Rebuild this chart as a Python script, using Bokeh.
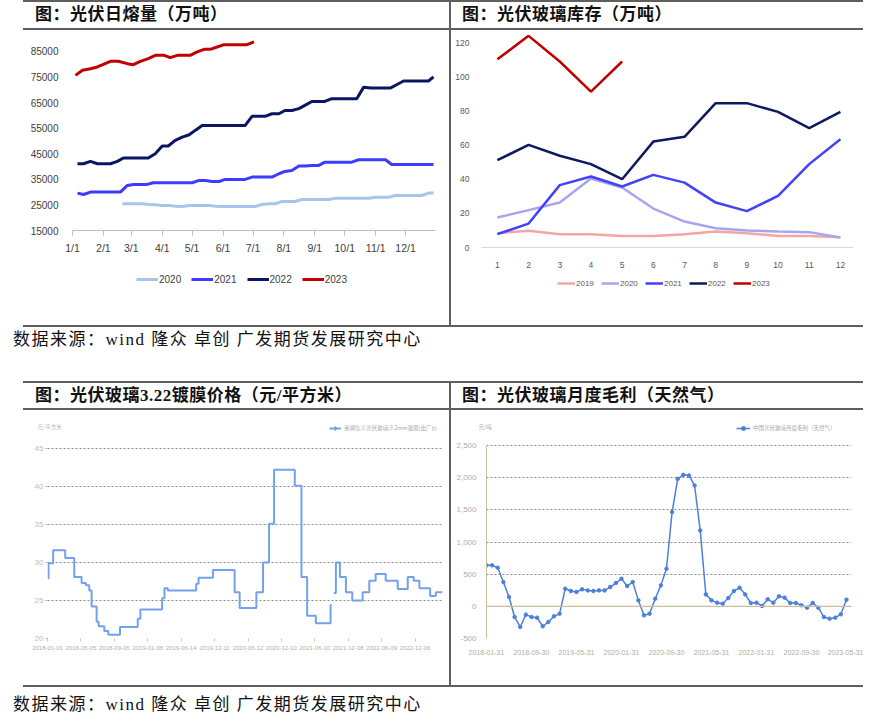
from bokeh.plotting import figure
from bokeh.models import (FixedTicker, Legend, LegendItem, Div, Spacer, Span, Label, NumeralTickFormatter)
from bokeh.layouts import column, row
from bokeh.embed import file_html
from bokeh.resources import INLINE

NUM = "'Liberation Sans', Arial, sans-serif"
CJK = "'Noto Sans CJK SC', sans-serif"
MIXED = "'Liberation Serif', 'Noto Sans CJK SC', serif"

# ---------------- data: 光伏日熔量 (day of year, value) ----------------
month_doy = [1, 32, 60, 91, 121, 152, 182, 213, 244, 274, 305, 335]
month_labels = ["1/1", "2/1", "3/1", "4/1", "5/1", "6/1", "7/1", "8/1", "9/1", "10/1", "11/1", "12/1"]
melt_ticks = [15000, 25000, 35000, 45000, 55000, 65000, 75000, 85000]

melt2020_x = [51, 57, 64, 71, 78, 84, 91, 98, 104, 111, 118, 124, 131, 138, 144, 151, 158, 164, 171, 178,
              184, 191, 198, 204, 211, 218, 224, 231, 238, 245, 251, 258, 265, 271, 278, 285, 291, 298, 305,
              311, 318, 325, 331, 338, 345, 351, 358, 363]
melt2020_y = [25430, 25430, 25430, 25430, 25170, 25040, 24780, 24780, 24520, 24390, 24780, 24780, 24780,
              24780, 24520, 24390, 24390, 24390, 24390, 24390, 24390, 25170, 25430, 25430, 26340, 26340,
              26340, 27120, 27120, 27120, 27120, 27120, 27640, 27640, 27640, 27640, 27640, 27640, 28030,
              28030, 28030, 28690, 28690, 28690, 28690, 28690, 29600, 29600]

melt2021_x = [6, 12, 19, 26, 32, 39, 46, 49, 56, 62, 69, 76, 82, 89, 96, 103, 109, 116, 121, 128, 134, 141,
              148, 154, 161, 168, 174, 181, 188, 194, 201, 208, 214, 221, 228, 234, 241, 248, 254, 261, 268,
              275, 281, 288, 295, 301, 308, 315, 321, 328, 335, 341, 348, 355, 363]
melt2021_y = [29600, 29080, 30000, 30000, 30000, 30000, 30000, 30000, 32600, 33000, 33000, 33000, 33640,
              33640, 33640, 33640, 33640, 33640, 33640, 34550, 34550, 34150, 34150, 34950, 34950, 34950,
              34950, 35860, 35860, 35860, 35860, 37160, 38070, 38460, 40160, 40160, 40420, 40420, 41700,
              41700, 41700, 41700, 41700, 42630, 42630, 42630, 42630, 42630, 40800, 40800, 40800, 40800,
              40800, 40800, 40800]

melt2022_x = [6, 12, 19, 26, 32, 39, 46, 52, 59, 66, 72, 77, 84, 91, 97, 104, 111, 118, 124, 131, 138, 144,
              151, 158, 164, 174, 181, 188, 194, 201, 208, 214, 221, 228, 234, 241, 248, 254, 261, 268, 275,
              281, 286, 293, 300, 306, 313, 320, 326, 333, 340, 346, 353, 358, 363]
melt2022_y = [41070, 41070, 42000, 41070, 41070, 41070, 42000, 43300, 43300, 43300, 43300, 43300, 45000,
              48000, 48000, 50200, 51500, 52400, 54100, 56000, 56000, 56000, 56000, 56000, 56000, 56000,
              59600, 59600, 59600, 60600, 60600, 61900, 61900, 62600, 63900, 65400, 65400, 65400, 66500,
              66500, 66500, 66500, 66500, 71000, 70700, 70700, 70700, 70700, 71950, 73400, 73400, 73400,
              73400, 73400, 75000]

melt2023_x = [4, 11, 19, 26, 32, 39, 47, 56, 62, 69, 77, 84, 93, 99, 106, 113, 119, 126, 133, 139, 146, 153,
              159, 166, 176, 183]
melt2023_y = [75600, 77570, 78200, 78870, 79900, 81090, 81090, 80170, 79780, 81090, 82130, 83430, 83430,
              82520, 83430, 83430, 83430, 84740, 85780, 85780, 86690, 87600, 87600, 87600, 87600, 88650]

# ---------------- data: 光伏玻璃库存 ----------------
months = [1, 2, 3, 4, 5, 6, 7, 8, 9, 10, 11, 12]
stock_ticks = [0, 20, 40, 60, 80, 100, 120]
stock2019 = [8.4, 9.8, 7.8, 7.8, 6.8, 6.8, 7.8, 9.4, 8.4, 6.8, 6.8, 6.0]
stock2020 = [17.6, 21.9, 26.3, 40.4, 35.1, 22.8, 15.2, 11.3, 10.0, 9.4, 9.0, 5.9]
stock2021 = [7.8, 14.0, 36.5, 41.6, 35.7, 42.5, 38.0, 26.3, 21.3, 30.2, 48.8, 63.4]
stock2022 = [51.1, 60.1, 53.7, 48.8, 40.0, 62.0, 64.8, 84.5, 84.5, 79.4, 69.9, 79.4]
stock2023 = [110.2, 123.9, 108.9, 91.3, 108.9]

# ---------------- data: 3.2mm镀膜价格 (step changes, index units) ----------------
price_tick_pos = [0, 100, 200, 300, 400, 500, 600, 700, 800, 900, 1000, 1100]
price_tick_lbl = ["2018-01-01", "2018-05-05", "2018-09-06", "2019-01-08", "2019-06-14", "2019-12-11",
                  "2020-06-12", "2020-12-10", "2021-06-10", "2021-12-08", "2022-06-09", "2022-12-06"]
price_ticks = [20, 25, 30, 35, 40, 45]
price1_x = [2, 3, 17, 53, 80, 102, 115, 125, 132, 147, 153, 170, 182, 217, 270, 278, 343, 350, 360, 445,
            452, 495, 560, 575, 625, 645, 663, 678, 740, 760, 777, 803, 847, 850]
price1_y = [27.9, 29.9, 31.6, 30.6, 28.1, 27.3, 27.0, 26.3, 24.2, 22.2, 21.6, 21.0, 20.5, 21.5, 22.6, 23.8,
            25.3, 26.6, 26.3, 27.2, 28.0, 29.0, 26.1, 24.0, 26.1, 30.0, 35.1, 42.2, 40.1, 28.1, 23.0, 22.0,
            24.4, 24.4]
price2_x = [857, 863, 875, 893, 912, 943, 963, 982, 1012, 1048, 1078, 1096, 1113, 1145, 1162, 1182]
price2_y = [26.0, 30.0, 28.1, 26.1, 25.0, 26.1, 27.6, 28.5, 27.6, 26.5, 28.1, 27.6, 26.6, 25.6, 26.1, 26.1]

# ---------------- data: 月度毛利 (month index from 2018-01) ----------------
profit_tick_pos = [0, 8, 16, 24, 32, 40, 48, 56, 64]
profit_tick_lbl = ["2018-01-31", "2018-09-30", "2019-05-31", "2020-01-31", "2020-09-30", "2021-05-31",
                   "2022-01-31", "2022-09-30", "2023-05-31"]
profit_ticks = [-500, 0, 500, 1000, 1500, 2000, 2500]
profit = [637, 637, 600, 378, 145, -166, -321, -129, -166, -176, -311, -243, -155, -114, 274, 238, 223,
          264, 248, 238, 248, 248, 300, 362, 430, 316, 378, 93, -140, -114, 119, 326, 585, 1465, 1982,
          2044, 2034, 1879, 1180, 186, 93, 57, 41, 129, 238, 290, 186, 52, 57, 5, 109, 57, 155, 135, 52,
          52, 16, -21, 52, -21, -166, -192, -176, -124, 104]
profit_m = list(range(len(profit)))

LINE_COL = "#5f5f5f"
C2019, C2020, C2021, C2022, C2023 = "#f4a6a6", "#a6a6f0", "#4242fa", "#0c1a5e", "#c00000"
M2020, M2021, M2022, M2023 = "#a9c4ea", "#3c3cff", "#0b1662", "#c00000"
BLUE3 = "#74a1ee"
BLUE4 = "#4d80dc"
TAN = "#cbbd9f"


def hline(w):
    return Div(text="", width=w, height=2, margin=0, styles={"background-color": LINE_COL})


def vline(h):
    return Div(text="", width=2, height=h, margin=0, styles={"background-color": LINE_COL})


def sp(w, h):
    return Spacer(width=w, height=h, margin=0)


def title_div(text, w, h):
    html = ('<div style="font-family:%s;font-size:17px;font-weight:bold;line-height:%dpx;'
            'letter-spacing:0.5px;white-space:nowrap;color:#111">%s</div>') % (MIXED, h, text)
    return Div(text=html, width=w, height=h, margin=0)


def source_div(h, lh):
    html = ('<div style="font-family:%s;font-size:17px;line-height:%dpx;letter-spacing:1.5px;'
            'white-space:nowrap;color:#111">'
            '数据来源：wind 隆众 卓创 广发期货发展研究中心</div>') % (MIXED, lh)
    return Div(text=html, width=850, height=h, margin=0)


def base_fig(w, h, xr, yr, l, r, t, b):
    p = figure(width=w, height=h, x_range=xr, y_range=yr, output_backend="svg", toolbar_location=None,
               title=None, min_border_left=l, min_border_right=r, min_border_top=t, min_border_bottom=b,
               margin=0)
    p.outline_line_color = None
    p.background_fill_color = "white"
    p.border_fill_color = "white"
    for ax in (p.xaxis[0], p.yaxis[0]):
        ax.minor_tick_line_color = None
        ax.major_tick_in = 0
    return p


YOFF = -10000   # blank figures look at an empty band far from any data


def blank_fig(w, h, l, r):
    """Figure with no axes; its data units equal canvas pixels (x) and pixels + YOFF (y)."""
    p = figure(width=w, height=h, x_range=(0, w), y_range=(YOFF, YOFF + h), x_axis_type=None,
               y_axis_type=None, output_backend="svg", toolbar_location=None, title=None,
               min_border=0, margin=0)
    p.outline_line_color = None
    p.background_fill_color = "white"
    p.border_fill_color = "white"
    off = 0
    try:
        p.frame_align = False
    except Exception:
        off = l
        p.x_range.start = l
        p.x_range.end = w - r
    return p, off


def make_legend(items, loc, **kw):
    base = dict(items=items, location=loc, orientation="horizontal", border_line_color=None,
                background_fill_alpha=0, padding=0, margin=0)
    base.update(kw)
    return Legend(**base)


# ---------- panel 1 ----------
p1 = base_fig(426, 240, (1, 365), (15000, 90000), 49, 14, 8, 40)
p1.grid.visible = False
p1.line(melt2020_x, melt2020_y, line_color=M2020, line_width=3)
p1.line(melt2021_x, melt2021_y, line_color=M2021, line_width=3)
p1.line(melt2022_x, melt2022_y, line_color=M2022, line_width=3)
p1.line(melt2023_x, melt2023_y, line_color=M2023, line_width=3)
xa = p1.xaxis[0]
xa.ticker = FixedTicker(ticks=month_doy)
xa.major_label_overrides = {d: s for d, s in zip(month_doy, month_labels)}
xa.axis_line_color = "#bfbfbf"
xa.major_tick_line_color = "#bfbfbf"
xa.major_tick_out = 5
xa.major_label_standoff = 6
xa.major_label_text_font = NUM
xa.major_label_text_font_size = "10.5px"
xa.major_label_text_color = "#404040"
ya = p1.yaxis[0]
ya.ticker = FixedTicker(ticks=melt_ticks)
ya.axis_line_color = None
ya.major_tick_line_color = None
ya.major_label_standoff = 8
ya.major_label_text_font = NUM
ya.major_label_text_font_size = "10px"
ya.major_label_text_color = "#404040"

lf1, o1 = blank_fig(426, 55, 49, 14)
lr1 = [lf1.line(xs, ys, line_color=c, line_width=3) for xs, ys, c in
       ((melt2020_x, melt2020_y, M2020), (melt2021_x, melt2021_y, M2021),
        (melt2022_x, melt2022_y, M2022), (melt2023_x, melt2023_y, M2023))]
lf1.add_layout(make_legend([LegendItem(label=s, renderers=[r]) for s, r in zip(["2020", "2021", "2022", "2023"], lr1)],
                           (113 - o1, 39), spacing=10, glyph_width=22, glyph_height=14, label_height=14,
                           label_standoff=1, label_text_font=NUM, label_text_font_size="10px",
                           label_text_color="#404040"))

# ---------- panel 2 ----------
p2 = base_fig(412, 240, (0.49, 12.42), (0, 124.7), 30, 10, 4, 23)
p2.grid.visible = False
p2.line(months, stock2019, line_color=C2019, line_width=2.5)
p2.line(months, stock2020, line_color=C2020, line_width=2.5)
p2.line(months, stock2021, line_color=C2021, line_width=2.5)
p2.line(months, stock2022, line_color=C2022, line_width=2.5)
p2.line(months[:len(stock2023)], stock2023, line_color=C2023, line_width=2.5)
xa = p2.xaxis[0]
xa.ticker = FixedTicker(ticks=months)
xa.axis_line_color = "#d9d9d9"
xa.major_tick_line_color = None
xa.major_label_standoff = 8
xa.major_label_text_font = NUM
xa.major_label_text_font_size = "8.5px"
xa.major_label_text_color = "#595959"
ya = p2.yaxis[0]
ya.ticker = FixedTicker(ticks=stock_ticks)
ya.axis_line_color = None
ya.major_tick_line_color = None
ya.major_label_standoff = 6
ya.major_label_text_font = NUM
ya.major_label_text_font_size = "8.5px"
ya.major_label_text_color = "#595959"

lf2, o2 = blank_fig(412, 55, 30, 10)
lr2 = [lf2.line(months[:len(v)], v, line_color=c, line_width=2.5) for v, c in
       ((stock2019, C2019), (stock2020, C2020), (stock2021, C2021), (stock2022, C2022), (stock2023, C2023))]
lf2.add_layout(make_legend([LegendItem(label=s, renderers=[r]) for s, r in
                            zip(["2019", "2020", "2021", "2022", "2023"], lr2)],
                           (106 - o2, 36), spacing=5, glyph_width=18, glyph_height=12, label_height=12,
                           label_standoff=1, label_text_font=NUM, label_text_font_size="8px",
                           label_text_color="#595959"))

# ---------- panel 3 ----------
p3 = base_fig(426, 250, (0, 1182), (20, 46.71), 24, 7, 0, 47)
p3.xgrid.visible = False
p3.ygrid.ticker = FixedTicker(ticks=price_ticks)
p3.ygrid.grid_line_color = "#8a8a8a"
p3.ygrid.grid_line_dash = "2 2"
p3.ygrid.grid_line_width = 1.2
p3.step(price1_x, price1_y, mode="after", line_color=BLUE3, line_width=2)
p3.step(price2_x, price2_y, mode="after", line_color=BLUE3, line_width=2)
xa = p3.xaxis[0]
xa.ticker = FixedTicker(ticks=price_tick_pos)
xa.major_label_overrides = {d: s for d, s in zip(price_tick_pos, price_tick_lbl)}
xa.axis_line_color = None
xa.major_tick_line_color = "#c8c8c8"
xa.major_tick_out = 3
xa.major_label_standoff = 4
xa.major_label_text_font = NUM
xa.major_label_text_font_size = "6px"
xa.major_label_text_color = "#b5aea6"
ya = p3.yaxis[0]
ya.ticker = FixedTicker(ticks=price_ticks)
ya.axis_line_color = None
ya.major_tick_line_color = "#b0b0b0"
ya.major_tick_out = 2
ya.major_label_standoff = 2
ya.major_label_text_font = NUM
ya.major_label_text_font_size = "8px"
ya.major_label_text_color = "#bdbdbd"

h3, o3 = blank_fig(426, 25, 24, 7)
h3.add_layout(Label(x=max(14, o3 + 1), y=YOFF + 9, text="元/平方米", text_font=CJK, text_font_size="5.5px",
                    text_color="#b8b8b8", text_baseline="middle"))
hl3 = h3.step(price1_x, price1_y, mode="after", line_color=BLUE3, line_width=2)
hm3 = h3.scatter(price1_x, price1_y, marker="diamond", size=9, color=BLUE3)
h3.add_layout(make_legend([LegendItem(label="芜湖信义光伏玻璃(3.2mm镀膜)出厂价", renderers=[hl3, hm3])],
                          (306 - o3, 2), glyph_width=12, glyph_height=10, label_height=10, label_standoff=3,
                          label_text_font=CJK, label_text_font_size="5.5px", label_text_color="#a8a8a8"))

# ---------- panel 4 ----------
p4 = base_fig(412, 250, (0, 64.9), (-500, 2656), 35, 12, 0, 47)
p4.xgrid.visible = False
p4.ygrid.ticker = FixedTicker(ticks=profit_ticks)
p4.ygrid.grid_line_color = "#8a8a8a"
p4.ygrid.grid_line_dash = "2 2"
p4.ygrid.grid_line_width = 1.2
p4.add_layout(Span(location=0, dimension="width", line_color=TAN, line_width=1.3))
p4.line(profit_m, profit, line_color=BLUE4, line_width=1.5)
p4.scatter(profit_m, profit, marker="circle", size=3.5, color=BLUE4)
xa = p4.xaxis[0]
xa.ticker = FixedTicker(ticks=profit_tick_pos)
xa.major_label_overrides = {d: s for d, s in zip(profit_tick_pos, profit_tick_lbl)}
xa.axis_line_color = None
xa.major_tick_line_color = None
xa.major_label_standoff = 5
xa.major_label_text_font = NUM
xa.major_label_text_font_size = "7px"
xa.major_label_text_color = "#b3aba3"
ya = p4.yaxis[0]
ya.ticker = FixedTicker(ticks=profit_ticks)
ya.formatter = NumeralTickFormatter(format="0,0")
ya.bounds = (-500, 2500)
ya.axis_line_color = TAN
ya.major_tick_line_color = None
ya.major_label_standoff = 4
ya.major_label_text_font = NUM
ya.major_label_text_font_size = "8px"
ya.major_label_text_color = "#b3aba3"

h4, o4 = blank_fig(412, 25, 35, 12)
h4.add_layout(Label(x=max(27, o4 + 1), y=YOFF + 9, text="元/吨", text_font=CJK, text_font_size="5.5px",
                    text_color="#b3aba3", text_baseline="middle"))
hl4 = h4.line(profit_m, profit, line_color=BLUE4, line_width=1.5)
hm4 = h4.scatter(profit_m, profit, marker="circle", size=6, color=BLUE4)
h4.add_layout(make_legend([LegendItem(label="中国光伏玻璃月度毛利（天然气）", renderers=[hl4, hm4])],
                          (285 - o4, 2), glyph_width=14, glyph_height=10, label_height=10, label_standoff=3,
                          label_text_font=CJK, label_text_font_size="5.5px", label_text_color="#a8a8a8"))

# ---------- layout ----------
L = 23
layout = column(
    row(sp(L, 2), hline(840)),
    row(sp(L + 12, 26), title_div("图：光伏日熔量（万吨）", 414, 26), vline(26), sp(11, 26),
        title_div("图：光伏玻璃库存（万吨）", 401, 26)),
    row(sp(L, 2), hline(840)),
    row(sp(L, 295), column(p1, lf1), vline(295), column(p2, lf2)),
    row(sp(L, 2), hline(840)),
    row(sp(13, 54), source_div(54, 26)),
    row(sp(L, 2), hline(840)),
    row(sp(L + 12, 25), title_div("图：光伏玻璃3.22镀膜价格（元/平方米）", 414, 25), vline(25), sp(11, 25),
        title_div("图：光伏玻璃月度毛利（天然气）", 401, 25)),
    row(sp(L, 2), hline(840)),
    row(sp(L, 275), column(h3, p3), vline(275), column(h4, p4)),
    row(sp(L, 2), hline(840)),
    row(sp(13, 31), source_div(31, 36)),
)

open("out.html", "w").write(file_html(layout, INLINE))
